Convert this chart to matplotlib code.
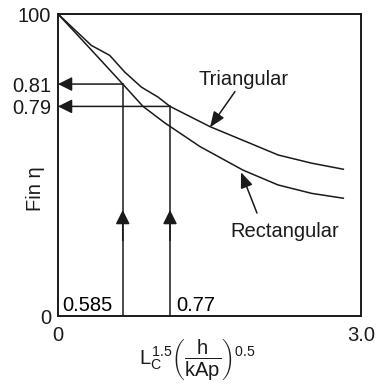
import matplotlib.pyplot as plt

plt.rcParams['font.family'] = ['Liberation Sans', 'DejaVu Sans']
plt.rcParams['mathtext.fontset'] = 'custom'
plt.rcParams['mathtext.rm'] = 'Liberation Sans'
plt.rcParams['mathtext.it'] = 'Liberation Sans'

# curves (x: L_c^1.5 (h/kAp)^0.5, y: fin efficiency scale 0..100)
tri_x = [0, 0.330, 0.512, 0.660, 0.825, 0.990, 1.109, 1.505, 1.901, 2.181, 2.512, 2.825]
tri_y = [100, 89.6, 86.3, 80.8, 75.8, 72.5, 69.4, 62.7, 57.2, 53.3, 50.6, 48.6]
rect_x = [0, 0.330, 0.641, 0.842, 1.059, 1.406, 1.832, 2.178, 2.512, 2.825]
rect_y = [100, 88.1, 76.8, 69.4, 63.9, 56.1, 48.3, 43.4, 40.6, 39.0]

# read-off guides: where drawn, level, and their printed labels
guide_x = [0.641, 1.109]
guide_y = [76.8, 69.4]
guide_xlabels = ['0.585', '0.77']
guide_ylabels = ['0.81', '0.79']

fig = plt.figure(figsize=(3.77, 3.84), dpi=100)
ax = fig.add_axes([58 / 377, 1 - 316 / 384, 303 / 377, 302 / 384])

lw = 1.1
ax.plot(tri_x, tri_y, color='#1a1a1a', lw=lw)
ax.plot(rect_x, rect_y, color='#1a1a1a', lw=lw)

head = dict(arrowstyle='-|>,head_length=0.5,head_width=0.25', mutation_scale=17,
            color='#1a1a1a', lw=lw, shrinkA=0, shrinkB=0)
for gx, gy, xl in zip(guide_x, guide_y, guide_xlabels):
    ax.plot([gx, gx], [0, gy], color='#1a1a1a', lw=lw)
    # horizontal arrow to the axis
    ax.annotate('', xy=(0, gy), xytext=(gx, gy), arrowprops=head)
    # upward arrowhead on the vertical line
    ax.annotate('', xy=(gx, 35.1), xytext=(gx, 25), arrowprops=head)

ax.text(0.047, 1.7, guide_xlabels[0], fontsize=14.5, ha='left', va='baseline')
ax.text(1.175, 1.7, guide_xlabels[1], fontsize=14.5, ha='left', va='baseline')

# curve labels with pointers
ax.text(1.396, 76.5, 'Triangular', fontsize=14.5, ha='left', va='baseline', color='#1a1a1a')
ax.annotate('', xy=(1.505, 62.5), xytext=(1.752, 74.3),
            arrowprops=dict(arrowstyle='-|>,head_length=0.55,head_width=0.22',
                            mutation_scale=17, color='#1a1a1a', lw=lw, shrinkA=0, shrinkB=0))
ax.text(1.703, 26.1, 'Rectangular', fontsize=14.5, ha='left', va='baseline', color='#1a1a1a')
ax.annotate('', xy=(1.812, 47.6), xytext=(1.970, 34.1),
            arrowprops=dict(arrowstyle='-|>,head_length=0.55,head_width=0.22',
                            mutation_scale=17, color='#1a1a1a', lw=lw, shrinkA=0, shrinkB=0))

ax.set_xlim(0, 3.0)
ax.set_ylim(0, 100)
ax.set_xticks([0, 3.0])
ax.set_xticklabels(['0', '3.0'])
ax.set_yticks([0] + guide_y[::-1] + [100])
ax.set_yticklabels(['0'] + guide_ylabels[::-1] + ['100'])
ax.tick_params(length=0, labelsize=14.5, colors='#1a1a1a')
ax.tick_params(axis='x', pad=7)
ax.tick_params(axis='y', pad=5)
for s in ax.spines.values():
    s.set_linewidth(1.4)
    s.set_color('#1a1a1a')

ax.text(-0.073, 0.42, 'Fin η', rotation=90, fontsize=14.5, ha='center', va='center',
        transform=ax.transAxes, color='#1a1a1a')
ax.text(0.46, -0.068, r'$L_C^{1.5}\left(\dfrac{h}{kAp}\right)^{0.5}$', fontsize=14.5,
        ha='center', va='top', transform=ax.transAxes, color='#1a1a1a')

fig.savefig('out.png', dpi=100)
